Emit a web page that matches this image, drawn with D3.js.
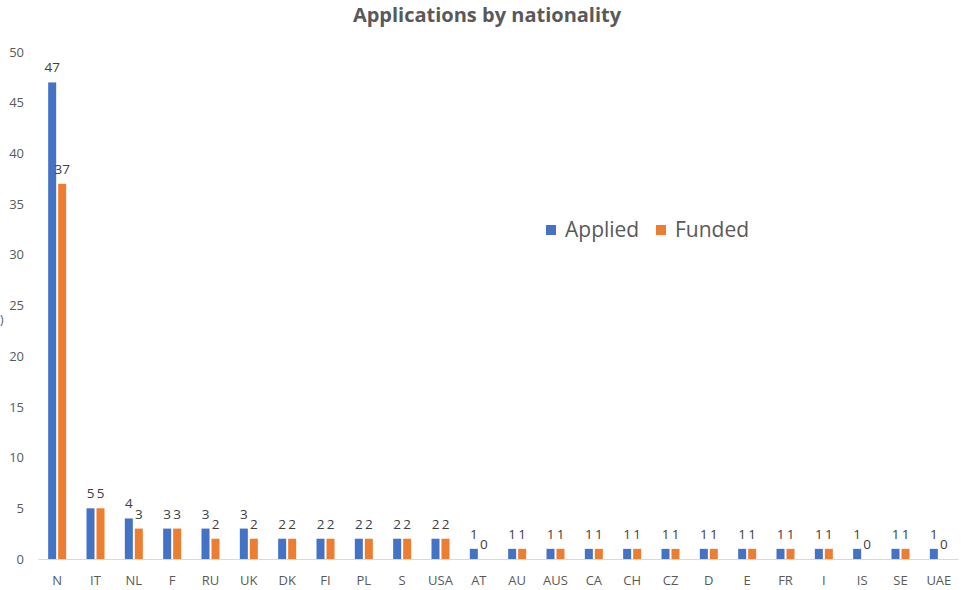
<!DOCTYPE html>
<html>
<head>
<meta charset="utf-8">
<script src="https://cdn.jsdelivr.net/npm/d3@7"></script>
<style>
  body { margin: 0; background: #fff; }
  text { font-family: "Open Sans", "Noto Sans", sans-serif; }
</style>
</head>
<body>
<svg id="chart" width="968" height="590"></svg>
<script>
// data
var countries = ['N', 'IT', 'NL', 'F', 'RU', 'UK', 'DK', 'FI', 'PL', 'S', 'USA', 'AT',
  'AU', 'AUS', 'CA', 'CH', 'CZ', 'D', 'E', 'FR', 'I', 'IS', 'SE', 'UAE']
var applied = [47, 5, 4, 3, 3, 3, 2, 2, 2, 2, 2, 1, 1, 1, 1, 1, 1, 1, 1, 1, 1, 1, 1, 1]
var funded = [37, 5, 3, 3, 2, 2, 2, 2, 2, 2, 2, 0, 1, 1, 1, 1, 1, 1, 1, 1, 1, 0, 1, 0]
var yTicks = [0, 5, 10, 15, 20, 25, 30, 35, 40, 45, 50]
var seriesNames = ['Applied', 'Funded']
var colors = ['#4472C4', '#ED7D31']

var svg = d3.select('#chart')
var grey = '#595959'

var x = d3.scaleBand().domain(countries).range([38, 958])
var y = d3.scaleLinear().domain([0, 50]).range([559, 52])

// title
svg.append('text')
  .attr('x', 487).attr('y', 22)
  .attr('text-anchor', 'middle')
  .attr('font-size', 20).attr('font-weight', 'bold')
  .attr('fill', grey)
  .text('Applications by nationality')

// clipped axis title remnant
svg.append('text').attr('x', 0).attr('y', 324)
  .attr('font-size', 12).attr('fill', grey).text(')')

// y axis labels (no line)
var yAxis = svg.append('g').attr('transform', 'translate(30,0)')
  .call(d3.axisLeft(y).tickValues(yTicks).tickSize(0).tickPadding(6))
yAxis.select('.domain').remove()
yAxis.selectAll('text').attr('font-size', 13).attr('fill', grey)
  .attr('font-family', '"Open Sans", sans-serif')

// x axis
var xAxis = svg.append('g').attr('transform', 'translate(0,' + y(0) + ')')
  .call(d3.axisBottom(x).tickSize(0).tickPadding(17))
xAxis.select('.domain').attr('stroke', '#d9d9d9').attr('stroke-width', 1)
xAxis.selectAll('text').attr('font-size', 13).attr('fill', grey)
  .attr('font-family', '"Open Sans", sans-serif')

var barW = 8, gap = 2
var series = [applied, funded]

series.forEach(function(vals, s) {
  var off = s == 0 ? -gap / 2 - barW : gap / 2
  var g = svg.append('g')
  g.selectAll('rect').data(vals).enter()
    .append('rect')
    .attr('x', (d, i) => x(countries[i]) + x.bandwidth() / 2 + off)
    .attr('width', barW)
    .attr('y', d => y(d))
    .attr('height', d => y(0) - y(d))
    .attr('fill', colors[s])
  g.selectAll('text').data(vals).enter()
    .append('text')
    .attr('x', (d, i) => x(countries[i]) + x.bandwidth() / 2 + off + barW / 2)
    .attr('y', d => y(d) - 10)
    .attr('text-anchor', 'middle')
    .attr('font-size', 13.5)
    .attr('fill', '#404040')
    .text(d => d)
})

// legend
var legend = svg.append('g')
seriesNames.forEach(function(name, i) {
  var lx = 546 + i * 110
  legend.append('rect').attr('x', lx).attr('y', 225).attr('width', 10).attr('height', 10)
    .attr('fill', colors[i])
  legend.append('text').attr('x', lx + 19).attr('y', 237)
    .attr('font-size', 21).attr('fill', grey).text(name)
})
</script>
</body>
</html>
